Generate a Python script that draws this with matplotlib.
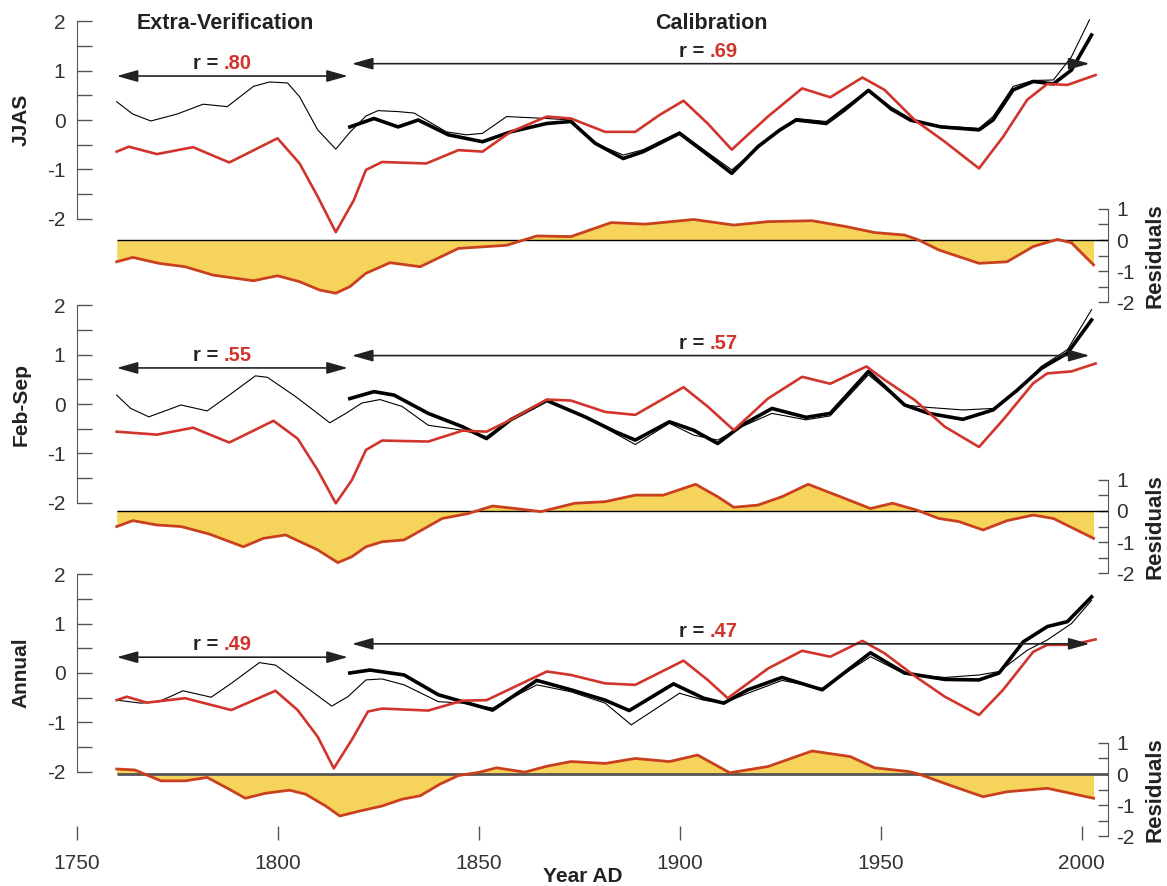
import matplotlib
matplotlib.use('Agg')
import matplotlib.pyplot as plt
from matplotlib.patches import ArrowStyle

plt.rcParams['font.family'] = ['Liberation Sans', 'DejaVu Sans']
plt.rcParams['axes.unicode_minus'] = False

# ---- JJAS ----
jjas_thin_yr = [1760, 1764, 1768.5, 1775, 1781.5, 1787.5, 1794, 1798, 1802.5, 1805.5, 1810, 1814.5,
                1818, 1822, 1825, 1830, 1834, 1838, 1842, 1847, 1851, 1857, 1862, 1867, 1873, 1879,
                1886, 1891, 1900, 1906, 1913, 1919.5, 1925, 1929, 1936.5, 1941, 1947, 1952.5, 1957.5,
                1965, 1974.5, 1978, 1983, 1988, 1993, 1997.5, 2002]
jjas_thin = [0.37, 0.12, -0.02, 0.12, 0.32, 0.27, 0.68, 0.77, 0.75, 0.47, -0.2, -0.59,
             -0.25, 0.08, 0.19, 0.17, 0.14, -0.05, -0.24, -0.3, -0.27, 0.07, 0.05, 0.03, 0.0, -0.47,
             -0.71, -0.6, -0.24, -0.6, -1.01, -0.57, -0.2, 0.03, -0.03, 0.25, 0.61, 0.2, -0.03,
             -0.12, -0.17, 0.07, 0.68, 0.8, 0.81, 1.28, 2.03]
jjas_thick_yr = [1818, 1824, 1830, 1835, 1842.5, 1851, 1858, 1867, 1873, 1879, 1886, 1891, 1900,
                 1906, 1913, 1919.5, 1925, 1929, 1936.5, 1941, 1947, 1952.5, 1957.5, 1965, 1974.5,
                 1978, 1983, 1988, 1993, 1997.5, 2002.5]
jjas_thick = [-0.14, 0.03, -0.14, 0.0, -0.3, -0.44, -0.24, -0.07, -0.03, -0.47, -0.78, -0.64, -0.27,
              -0.64, -1.08, -0.54, -0.2, 0.0, -0.07, 0.2, 0.6, 0.24, 0.0, -0.14, -0.2,
              0.0, 0.61, 0.78, 0.73, 1.01, 1.72]
jjas_red_yr = [1760, 1763, 1770, 1779, 1788, 1800, 1805.5, 1810, 1814.5, 1819, 1822, 1826, 1837,
               1845, 1851, 1858, 1867, 1873, 1881.5, 1889, 1895, 1901, 1907, 1913, 1917, 1922,
               1930.5, 1937.5, 1945.5, 1951, 1958.5, 1966, 1974.5, 1980.5, 1986.5, 1991.5, 1996.5,
               2003.5]
jjas_red = [-0.64, -0.54, -0.69, -0.55, -0.86, -0.37, -0.88, -1.55, -2.27, -1.62, -1.01, -0.85, -0.88,
            -0.61, -0.64, -0.24, 0.07, 0.03, -0.24, -0.24, 0.1, 0.39, -0.07, -0.6, -0.3, 0.07,
            0.64, 0.46, 0.86, 0.61, 0.0, -0.44, -0.98, -0.34, 0.41, 0.73, 0.71,
            0.91]
jjas_res_yr = [1760, 1764, 1770.5, 1777, 1784, 1794, 1800, 1805.5, 1810.5, 1814.5, 1818, 1822, 1828,
               1835.5, 1845, 1857, 1864.5, 1873, 1883, 1891.5, 1903.5, 1913.5, 1922, 1933, 1941.5,
               1948.5, 1956, 1959.5, 1964.5, 1974.5, 1981.5, 1988, 1994, 1997.5, 2003]
jjas_res = [-0.70, -0.56, -0.75, -0.86, -1.13, -1.31, -1.15, -1.34, -1.61, -1.71, -1.50, -1.07, -0.73,
            -0.86, -0.27, -0.17, 0.13, 0.11, 0.56, 0.51, 0.66, 0.48, 0.59, 0.62, 0.43,
            0.24, 0.16, 0.0, -0.32, -0.75, -0.70, -0.21, 0.02, -0.09, -0.80]

# ---- Feb-Sep ----
fs_thin_yr = [1760, 1763.5, 1768, 1776, 1782.5, 1787.5, 1794.5, 1797.5, 1804.5, 1809.5, 1813, 1817,
              1821, 1825.5, 1831, 1837.5, 1846, 1852, 1858, 1867, 1876.5, 1889, 1897.5, 1903.5,
              1909.5, 1915.5, 1923, 1931.5, 1937.5, 1947, 1956, 1962, 1970.5, 1978, 1984, 1990,
              1996.5, 2002.5]
fs_thin = [0.18, -0.09, -0.26, -0.02, -0.14, 0.15, 0.57, 0.54, 0.15, -0.16, -0.38, -0.19,
           0.02, 0.09, -0.05, -0.43, -0.53, -0.66, -0.32, 0.08, -0.26, -0.82, -0.39, -0.63,
           -0.73, -0.46, -0.19, -0.32, -0.24, 0.59, -0.02, -0.07, -0.12, -0.09, 0.25, 0.76,
           1.10, 1.91]
fs_thick_yr = [1818, 1824, 1829, 1837.5, 1846, 1852, 1858, 1867, 1876.5, 1884, 1889, 1897.5, 1903.5,
               1909.5, 1915.5, 1923, 1931.5, 1937.5, 1947, 1956, 1962, 1970.5, 1978, 1984, 1990,
               1996.5, 2002.5]
fs_thick = [0.11, 0.25, 0.18, -0.19, -0.46, -0.70, -0.32, 0.07, -0.26, -0.56, -0.73, -0.36, -0.53,
            -0.80, -0.43, -0.09, -0.27, -0.19, 0.66, -0.02, -0.19, -0.31, -0.12, 0.28, 0.72,
            1.03, 1.70]
fs_red_yr = [1760, 1770, 1779, 1788, 1799, 1805, 1810, 1814.5, 1818.5, 1822, 1826, 1837.5, 1846,
             1852, 1858, 1867, 1873, 1881.5, 1889, 1901, 1907, 1913.5, 1922, 1930.5, 1937.5,
             1946.5, 1951, 1958.5, 1966, 1974.5, 1980.5, 1988, 1991.5, 1997.5, 2003.5]
fs_red = [-0.56, -0.62, -0.48, -0.78, -0.34, -0.70, -1.34, -2.01, -1.54, -0.93, -0.74, -0.76, -0.54,
          -0.56, -0.32, 0.09, 0.07, -0.16, -0.22, 0.34, -0.05, -0.53, 0.11, 0.55, 0.41,
          0.76, 0.49, 0.08, -0.46, -0.87, -0.32, 0.42, 0.62, 0.66, 0.82]
fs_res_yr = [1760, 1764, 1770, 1776, 1783, 1791.5, 1796.5, 1802, 1810, 1815, 1818.5, 1822, 1826,
             1831.5, 1841, 1847.5, 1853.5, 1858.5, 1865.5, 1874, 1881.5, 1889, 1896, 1904, 1909.5,
             1913.5, 1919.5, 1925.5, 1932, 1940, 1947.5, 1953, 1959, 1964.5, 1969.5, 1975.5,
             1981.5, 1988, 1993, 2003]
fs_res = [-0.50, -0.31, -0.45, -0.50, -0.74, -1.15, -0.88, -0.77, -1.25, -1.66, -1.47, -1.15, -0.99,
          -0.93, -0.24, -0.08, 0.16, 0.09, -0.02, 0.25, 0.30, 0.51, 0.51, 0.86, 0.46,
          0.12, 0.19, 0.46, 0.86, 0.46, 0.08, 0.25, 0.03, -0.24, -0.34, -0.61,
          -0.31, -0.13, -0.24, -0.88]

# ---- Annual ----
an_thin_yr = [1760, 1766, 1770.5, 1776.5, 1783.5, 1788.5, 1795.5, 1799.5, 1807, 1813.5, 1817.5, 1822,
              1826, 1831.5, 1840, 1846, 1853.5, 1864.5, 1873, 1881.5, 1888, 1900, 1906, 1911, 1917,
              1925.5, 1935.5, 1947.5, 1956, 1966, 1974.5, 1979.5, 1986.5, 1991.5, 1997.5, 2002.5]
an_thin = [-0.55, -0.61, -0.58, -0.36, -0.49, -0.21, 0.21, 0.16, -0.28, -0.67, -0.48, -0.14,
           -0.12, -0.24, -0.58, -0.61, -0.71, -0.24, -0.38, -0.61, -1.05, -0.41, -0.55, -0.61, -0.41,
           -0.15, -0.31, 0.33, -0.02, -0.09, -0.04, 0.03, 0.46, 0.67, 1.0, 1.47]
an_thick_yr = [1818, 1823, 1831.5, 1840, 1846, 1853.5, 1864.5, 1873, 1881.5, 1887.5, 1898.5, 1906,
               1911, 1917, 1925.5, 1935.5, 1947.5, 1956, 1966, 1974.5, 1979.5, 1985.5, 1991.5,
               1996.5, 2002.5]
an_thick = [0.0, 0.06, -0.04, -0.44, -0.58, -0.75, -0.15, -0.34, -0.55, -0.76, -0.22, -0.51,
            -0.61, -0.34, -0.09, -0.34, 0.41, 0.0, -0.13, -0.14, 0.0, 0.63, 0.94,
            1.04, 1.54]
an_red_yr = [1760, 1762.5, 1767.5, 1777, 1788.5, 1799.5, 1805, 1810, 1814, 1818.5, 1822.5, 1826,
             1837.5, 1846, 1852, 1867, 1873, 1881.5, 1889, 1901, 1907, 1912, 1922, 1930.5, 1937.5,
             1945.5, 1951, 1958.5, 1966, 1974.5, 1980.5, 1988, 1991.5, 1997.5, 2003.5]
an_red = [-0.55, -0.48, -0.60, -0.51, -0.75, -0.36, -0.75, -1.29, -1.93, -1.35, -0.78, -0.72,
          -0.76, -0.56, -0.55, 0.03, -0.04, -0.21, -0.24, 0.25, -0.14, -0.51, 0.09, 0.45, 0.33,
          0.65, 0.40, -0.06, -0.48, -0.85, -0.34, 0.43, 0.57, 0.57, 0.68]
an_res_yr = [1760, 1764.5, 1771, 1777, 1782.5, 1788, 1792, 1797, 1803, 1807, 1812, 1815.5, 1820.5,
             1826, 1831, 1835.5, 1840.5, 1845, 1850, 1854.5, 1861.5, 1867, 1873, 1881.5, 1889,
             1897.5, 1904.5, 1912.5, 1922, 1933, 1942.5, 1948.5, 1957, 1959.5, 1967, 1975.5,
             1981.5, 1991.5, 2003]
an_res = [0.16, 0.13, -0.22, -0.22, -0.11, -0.49, -0.78, -0.62, -0.52, -0.65, -1.03, -1.35, -1.19,
          -1.03, -0.81, -0.70, -0.32, -0.05, 0.05, 0.20, 0.06, 0.25, 0.40, 0.34, 0.50,
          0.40, 0.61, 0.04, 0.24, 0.74, 0.56, 0.20, 0.08, 0.0, -0.35, -0.73,
          -0.57, -0.46, -0.78]

panel_names = ['JJAS', 'Feb-Sep', 'Annual']
r_verif = ['.80', '.55', '.49']
r_calib = ['.69', '.57', '.47']
year_ticks = [1750, 1800, 1850, 1900, 1950, 2000]

RED = '#d1342b'
RES_RED = '#c9401e'
YELLOW = '#f6d45c'
DARK = '#222222'
GREY = '#555555'

# layout (pixels of the 1167x886 canvas)
W, H = 1167, 886
X0_PX, X1_PX = 76.5, 1108
PX_PER_YEAR = 4.02
XMAX = 1750 + (X1_PX - X0_PX) / PX_PER_YEAR

fig = plt.figure(figsize=(W / 100, H / 100), dpi=100)
fig.patch.set_facecolor('white')


def add_axes(zero_px, ppu, lo, hi):
    bottom = zero_px - ppu * lo
    top = zero_px - ppu * hi
    ax = fig.add_axes([X0_PX / W, 1 - bottom / H, (X1_PX - X0_PX) / W, (bottom - top) / H])
    ax.set_xlim(1750, XMAX)
    ax.set_ylim(lo, hi)
    ax.patch.set_alpha(0)
    for s in ax.spines.values():
        s.set_visible(False)
    ax.set_xticks([])
    return ax


panels = [
    dict(thin=(jjas_thin_yr, jjas_thin), thick=(jjas_thick_yr, jjas_thick),
         red=(jjas_red_yr, jjas_red), res=(jjas_res_yr, jjas_res),
         zero=120, res_zero=240, arr_v=0.89, arr_c=1.14, zero_lw=1.0, zero_col='black'),
    dict(thin=(fs_thin_yr, fs_thin), thick=(fs_thick_yr, fs_thick),
         red=(fs_red_yr, fs_red), res=(fs_res_yr, fs_res),
         zero=404, res_zero=511, arr_v=0.73, arr_c=0.98, zero_lw=1.0, zero_col='black'),
    dict(thin=(an_thin_yr, an_thin), thick=(an_thick_yr, an_thick),
         red=(an_red_yr, an_red), res=(an_res_yr, an_res),
         zero=673, res_zero=774, arr_v=0.32, arr_c=0.59, zero_lw=2.0, zero_col='#555555'),
]

PPU = 49.4
PPU_RES = 31.1
main_ticks = [-2, -1.5, -1, -0.5, 0, 0.5, 1, 1.5, 2]
main_labels = ['-2', '', '-1', '', '0', '', '1', '', '2']
res_ticks = [-2, -1.5, -1, -0.5, 0, 0.5, 1]
res_labels = ['-2', '', '-1', '', '0', '', '1']

head = ArrowStyle('<|-|>', head_length=1.6, head_width=0.45)

for i, p in enumerate(panels):
    # residual strip
    axr = add_axes(p['res_zero'], PPU_RES, -2.5, 1.5)
    ry, rv = p['res']
    axr.fill_between(ry, rv, 0, color=YELLOW, lw=0)
    axr.hlines(0, 1760, XMAX, color=p['zero_col'], lw=p['zero_lw'])
    axr.plot(ry, rv, color=RES_RED, lw=2.0, solid_joinstyle='round')
    axr.spines['right'].set_visible(True)
    axr.spines['right'].set_bounds(-2, 1)
    axr.spines['right'].set_color(GREY)
    axr.yaxis.tick_right()
    axr.set_yticks(res_ticks)
    axr.set_yticklabels(res_labels)
    axr.tick_params(axis='y', direction='in', length=7, width=1, color=GREY,
                    pad=6, labelsize=15, labelcolor='#333333')
    fig.text(1155 / W, 1 - (p['res_zero'] + PPU_RES * 0.5) / H, 'Residuals',
             rotation=90, ha='center', va='center', fontsize=16, fontweight='bold', color=DARK)

    # main panel
    ax = add_axes(p['zero'], PPU, -2.5, 2.5)
    ty, tv = p['thin']
    ax.plot(ty, tv, color='black', lw=0.8, clip_on=False)
    ky, kv = p['thick']
    ax.plot(ky, kv, color='black', lw=2.6, solid_joinstyle='round', clip_on=False)
    dy, dv = p['red']
    ax.plot(dy, dv, color=RED, lw=1.9, solid_joinstyle='round', clip_on=False)
    ax.spines['left'].set_visible(True)
    ax.spines['left'].set_bounds(-2, 2)
    ax.spines['left'].set_color(GREY)
    ax.set_yticks(main_ticks)
    ax.set_yticklabels(main_labels)
    ax.tick_params(axis='y', direction='in', length=11, width=1, color=GREY,
                   pad=8, labelsize=15, labelcolor='#333333')
    fig.text(21 / W, 1 - p['zero'] / H, panel_names[i], rotation=90, ha='center',
             va='center', fontsize=15, fontweight='bold', color=DARK)

    # period arrows
    ax.annotate('', xy=(1760, p['arr_v']), xytext=(1817.5, p['arr_v']),
                arrowprops=dict(arrowstyle=head, color=DARK, lw=1.2, shrinkA=0, shrinkB=0,
                                mutation_scale=8))
    ax.annotate('', xy=(1818.5, p['arr_c']), xytext=(2002, p['arr_c']),
                arrowprops=dict(arrowstyle=head, color=DARK, lw=1.2, shrinkA=0, shrinkB=0,
                                mutation_scale=8))
    for bx, yv, rs in [(1786.5, p['arr_v'] + 0.25, r_verif[i]),
                       (1907.5, p['arr_c'] + 0.25, r_calib[i])]:
        ax.text(bx - 1.3, yv, 'r =', ha='right', va='center', fontsize=14.5,
                fontweight='bold', color=DARK)
        ax.text(bx, yv, rs, ha='left', va='center', fontsize=14.5,
                fontweight='bold', color=RED)

    if i == 0:
        ax.text(1787, 1.95, 'Extra-Verification', ha='center', va='center',
                fontsize=15.5, fontweight='bold', color=DARK)
        ax.text(1908, 1.95, 'Calibration', ha='center', va='center',
                fontsize=15.5, fontweight='bold', color=DARK)

# year axis
axx = fig.add_axes([X0_PX / W, 1 - 840 / H, (X1_PX - X0_PX) / W, 20 / H])
axx.set_xlim(1750, XMAX)
axx.patch.set_alpha(0)
for s in axx.spines.values():
    s.set_visible(False)
axx.set_yticks([])
axx.set_xticks(year_ticks)
axx.set_xticklabels([str(y) for y in year_ticks])
axx.tick_params(axis='x', direction='in', length=10, width=1, color=GREY,
                pad=10, labelsize=15, labelcolor='#333333')
fig.text(583 / W, 1 - 877 / H, 'Year AD', ha='center', va='center',
         fontsize=15, fontweight='bold', color=DARK)

fig.savefig('out.png', dpi=100, facecolor='white')
